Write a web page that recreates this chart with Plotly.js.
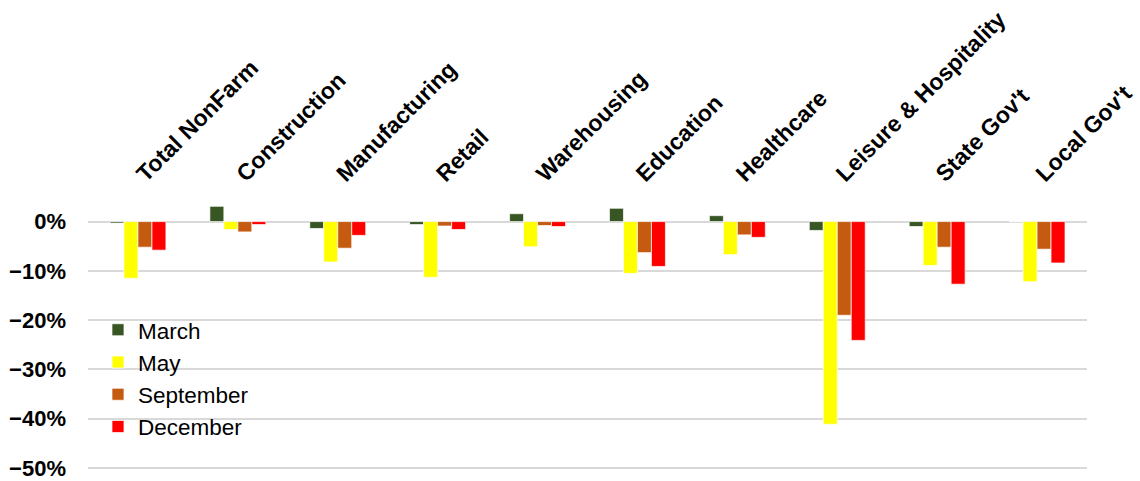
<!DOCTYPE html>
<html>
<head>
<meta charset="utf-8">
<script src="https://cdn.plot.ly/plotly-3.0.1.min.js"></script>
<style>html,body{margin:0;padding:0;background:#fff;}#chart{width:1140px;height:481px;}</style>
</head>
<body>
<div id="chart"></div>
<script>
const categories = ["Total NonFarm","Construction","Manufacturing","Retail","Warehousing","Education","Healthcare","Leisure & Hospitality","State Gov't","Local Gov't"];
const march = [-0.003, 0.031, -0.014, -0.006, 0.016, 0.027, 0.012, -0.018, -0.010, 0.000];
const may = [-0.115, -0.016, -0.082, -0.113, -0.051, -0.105, -0.067, -0.411, -0.089, -0.122];
const september = [-0.052, -0.021, -0.054, -0.009, -0.008, -0.063, -0.027, -0.190, -0.052, -0.056];
const december = [-0.058, -0.006, -0.028, -0.016, -0.010, -0.091, -0.032, -0.241, -0.127, -0.084];
const seriesNames = ["March","May","September","December"];
const colors = ["#375623","#FFFF00","#C55A11","#FF0000"];
const values = [march, may, september, december];

const traces = values.map((v,i)=>({
  type:'bar', x:categories, y:v, name:seriesNames[i],
  marker:{color:colors[i], line:{color:'rgba(255,255,255,0.7)', width:1}},
  hoverinfo:'none'
}));

const FONT = '"Liberation Sans", Arial, sans-serif';
const layout = {
  width:1140, height:481,
  margin:{l:88, r:53, t:192, b:8},
  paper_bgcolor:'#fff', plot_bgcolor:'#fff',
  font:{family:FONT, color:'#000'},
  barmode:'group', bargap:0.44, bargroupgap:0,
  showlegend:true,
  legend:{x:0.01, y:0.585, xanchor:'left', yanchor:'top', bgcolor:'rgba(0,0,0,0)',
          font:{size:22.5, family:FONT}, traceorder:'normal'},
  xaxis:{type:'category', side:'top', tickangle:-45, showgrid:false, showline:false, ticks:'', zeroline:false,
         tickfont:{size:23, family:FONT, weight:'bold'}},
  yaxis:{range:[-0.51,0.06], tickvals:[0,-0.1,-0.2,-0.3,-0.4,-0.5], tickformat:'.0%',
         showgrid:true, gridcolor:'#d9d9d9', gridwidth:2, zeroline:true, zerolinecolor:'#d9d9d9', zerolinewidth:2,
         showline:false, ticks:'', ticklabelstandoff:21,
         tickfont:{size:22, family:FONT, weight:'bold'}}
};
Plotly.newPlot('chart', traces, layout, {staticPlot:true, displayModeBar:false});
</script>
</body>
</html>
